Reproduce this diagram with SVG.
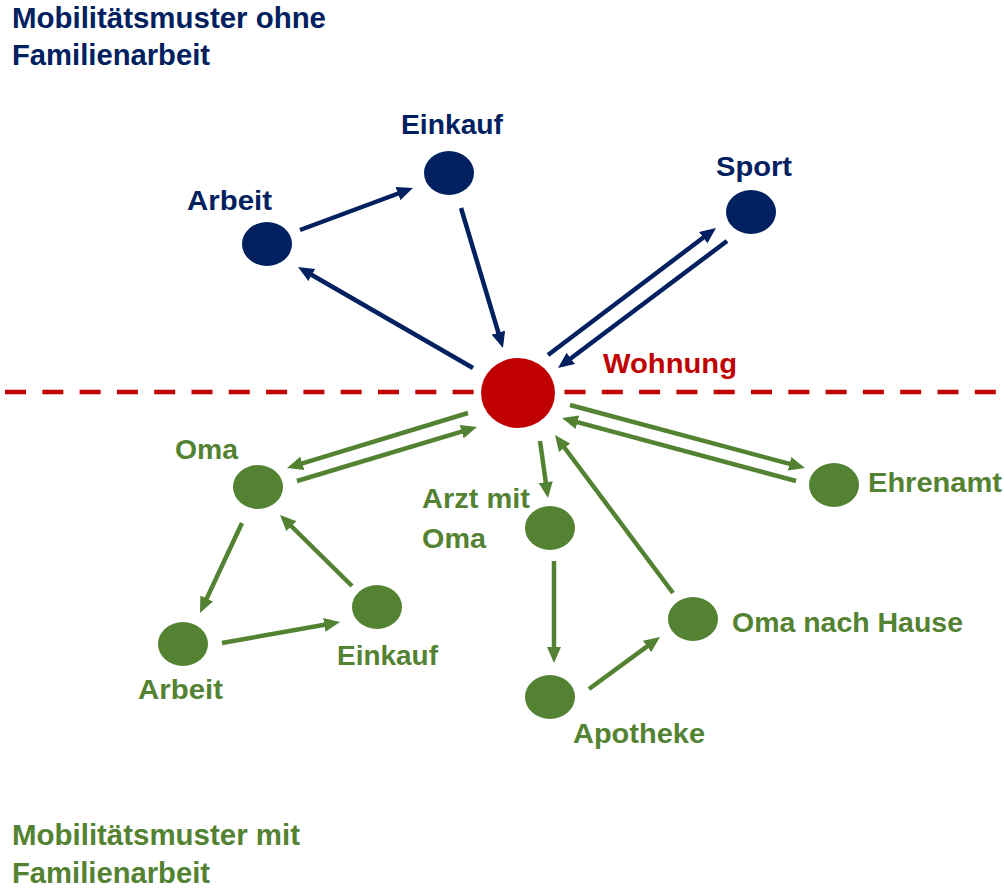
<svg xmlns="http://www.w3.org/2000/svg" width="1004" height="894" viewBox="0 0 1004 894">
<style>
.t{font-family:"Liberation Sans",Arial,sans-serif;font-weight:bold;font-size:27.5px}
.title{font-family:"Liberation Sans",Arial,sans-serif;font-weight:bold;font-size:29.5px}
.navy{fill:#002060}
.green{fill:#538232}
.red{fill:#C00000}
.cn{stroke:#002060;stroke-width:4.5;fill:none;marker-end:url(#an)}
.cg{stroke:#538232;stroke-width:4.5;fill:none;marker-end:url(#ag)}
</style>
<defs>
<marker id="an" viewBox="0 0 16 14" refX="6" refY="7" markerWidth="16" markerHeight="14" markerUnits="userSpaceOnUse" orient="auto"><path d="M0,0 L16,7 L0,14 z" fill="#002060"/></marker>
<marker id="ag" viewBox="0 0 16 14" refX="6" refY="7" markerWidth="16" markerHeight="14" markerUnits="userSpaceOnUse" orient="auto"><path d="M0,0 L16,7 L0,14 z" fill="#538232"/></marker>
</defs>
<rect width="1004" height="894" fill="#fff"/>
<g id="titles">
<text class="title navy" x="12" y="28" textLength="314" lengthAdjust="spacingAndGlyphs">Mobilitätsmuster ohne</text>
<text class="title navy" x="12" y="65" textLength="198" lengthAdjust="spacingAndGlyphs">Familienarbeit</text>
<text class="title green" x="12" y="845" textLength="288" lengthAdjust="spacingAndGlyphs">Mobilitätsmuster mit</text>
<text class="title green" x="12" y="883" textLength="198" lengthAdjust="spacingAndGlyphs">Familienarbeit</text>
</g>
<line id="divider" x1="5" y1="392" x2="1004" y2="392" stroke="#C00000" stroke-width="4.5" stroke-dasharray="21 16.3"/>
<g id="connectors">
<line class="cn" x1="300" y1="230" x2="403.6" y2="191.5"/>
<line class="cn" x1="461" y1="208" x2="500.1" y2="338.4"/>
<line class="cn" x1="473" y1="368" x2="306.7" y2="272"/>
<line class="cn" x1="548" y1="355" x2="708" y2="234"/>
<line class="cn" x1="727" y1="241" x2="566" y2="362"/>
<line class="cg" x1="468" y1="413" x2="296.6" y2="465.1"/>
<line class="cg" x1="297" y1="481" x2="467.4" y2="429.9"/>
<line class="cg" x1="242" y1="523" x2="204.2" y2="603.9"/>
<line class="cg" x1="222" y1="643" x2="330.2" y2="623.8"/>
<line class="cg" x1="352" y1="586" x2="287.1" y2="522"/>
<line class="cg" x1="540" y1="441" x2="546.6" y2="488.1"/>
<line class="cg" x1="554" y1="561" x2="554" y2="653"/>
<line class="cg" x1="589" y1="689" x2="651.9" y2="642.9"/>
<line class="cg" x1="673" y1="593" x2="561" y2="443"/>
<line class="cg" x1="570" y1="405" x2="795.3" y2="465.4"/>
<line class="cg" x1="796" y1="481" x2="571.7" y2="420.6"/>
</g>
<g id="wohnung">
<ellipse class="red" cx="518" cy="393" rx="37" ry="35"/>
<text class="t red" x="603" y="373" textLength="134" lengthAdjust="spacingAndGlyphs">Wohnung</text>
</g>
<g id="arbeit-ohne">
<ellipse class="navy" cx="267" cy="244" rx="25" ry="22"/>
<text class="t navy" x="187" y="210" textLength="85" lengthAdjust="spacingAndGlyphs">Arbeit</text>
</g>
<g id="einkauf-ohne">
<ellipse class="navy" cx="449" cy="173" rx="25" ry="22"/>
<text class="t navy" x="401" y="134" textLength="102" lengthAdjust="spacingAndGlyphs">Einkauf</text>
</g>
<g id="sport">
<ellipse class="navy" cx="751" cy="212" rx="25" ry="22"/>
<text class="t navy" x="716" y="176" textLength="76" lengthAdjust="spacingAndGlyphs">Sport</text>
</g>
<g id="oma">
<ellipse class="green" cx="258" cy="487" rx="25" ry="22"/>
<text class="t green" x="175" y="459" textLength="63" lengthAdjust="spacingAndGlyphs">Oma</text>
</g>
<g id="arbeit-mit">
<ellipse class="green" cx="183" cy="644" rx="25" ry="22"/>
<text class="t green" x="138" y="699" textLength="85" lengthAdjust="spacingAndGlyphs">Arbeit</text>
</g>
<g id="einkauf-mit">
<ellipse class="green" cx="377" cy="607" rx="25" ry="22"/>
<text class="t green" x="337" y="665" textLength="101" lengthAdjust="spacingAndGlyphs">Einkauf</text>
</g>
<g id="arzt">
<ellipse class="green" cx="550" cy="528" rx="25" ry="22"/>
<text class="t green" x="422" y="508" textLength="108" lengthAdjust="spacingAndGlyphs">Arzt mit</text>
<text class="t green" x="422" y="548" textLength="64" lengthAdjust="spacingAndGlyphs">Oma</text>
</g>
<g id="apotheke">
<ellipse class="green" cx="550" cy="697" rx="25" ry="22"/>
<text class="t green" x="573" y="743" textLength="132" lengthAdjust="spacingAndGlyphs">Apotheke</text>
</g>
<g id="oma-nach-hause">
<ellipse class="green" cx="693" cy="619" rx="25" ry="22"/>
<text class="t green" x="732" y="632" textLength="231" lengthAdjust="spacingAndGlyphs">Oma nach Hause</text>
</g>
<g id="ehrenamt">
<ellipse class="green" cx="834" cy="485" rx="25" ry="22"/>
<text class="t green" x="868" y="492" textLength="134" lengthAdjust="spacingAndGlyphs">Ehrenamt</text>
</g>
</svg>
